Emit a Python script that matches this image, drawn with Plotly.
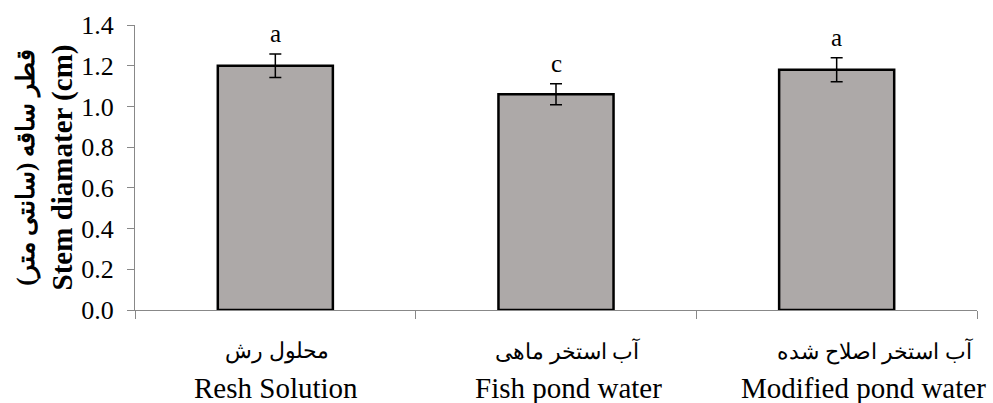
import plotly.graph_objects as go

categories_fa = ["محلول رش", "آب استخر ماهی", "آب استخر اصلاح شده"]
categories_en = ["Resh Solution", "Fish pond water", "Modified pond water"]
values = [1.20, 1.06, 1.18]
errors = [0.058, 0.052, 0.059]
letters = ["a", "c", "a"]
y_ticks = [0.0, 0.2, 0.4, 0.6, 0.8, 1.0, 1.2, 1.4]

# horizontal nudges (px) of the category text boxes, as placed in the original
fa_offsets = [2, 11, 38]
en_offsets = [1, 12, 27]

SERIF = "Liberation Serif, Times New Roman, serif"

fig = go.Figure()
fig.add_trace(go.Bar(
    x=categories_en, y=values,
    marker=dict(color="#ADA9A8", line=dict(color="#000000", width=2.5)),
    width=0.41,
    error_y=dict(type="data", array=errors, visible=True, color="#000000", thickness=1.5, width=6),
))
for c, v, e, l in zip(categories_en, values, errors, letters):
    fig.add_annotation(x=c, y=v + e, text=l, showarrow=False, yanchor="bottom", yshift=5,
                       font=dict(family=SERIF, size=25, color="#000"))
for c, fa, en, dfa, den in zip(categories_en, categories_fa, categories_en, fa_offsets, en_offsets):
    fig.add_annotation(x=c, y=0, yref="paper", text=fa, showarrow=False, yanchor="middle",
                       yshift=-41, xshift=dfa,
                       font=dict(family=SERIF, size=22, color="#000"))
    fig.add_annotation(x=c, y=0, yref="paper", text=en, showarrow=False, yanchor="middle",
                       yshift=-78, xshift=den,
                       font=dict(family=SERIF, size=29, color="#000"))

fig.update_layout(
    width=993, height=403,
    margin=dict(l=135, r=16, t=25, b=93),
    plot_bgcolor="white", paper_bgcolor="white",
    showlegend=False,
    font=dict(family=SERIF, size=26, color="#000"),
)
fig.update_xaxes(
    range=[-0.5, len(categories_en) - 0.5],
    showline=True, linecolor="#888888", linewidth=1,
    ticks="outside", ticklen=8, tickcolor="#888888", tickson="boundaries",
    showticklabels=False,
    showgrid=False,
)
fig.update_yaxes(
    range=[0, 1.4], tickvals=y_ticks, tickformat=".1f",
    showline=True, linecolor="#888888", linewidth=1,
    ticks="outside", ticklen=7, tickcolor="#888888",
    tickfont=dict(family=SERIF, size=26, color="#000"),
    ticklabelstandoff=8,
    showgrid=False, zeroline=False,
    title=dict(text="<b><span style='font-size:25px'>قطر ساقه (سانتی متر)</span><br>Stem diamater (cm)</b>",
               font=dict(family=SERIF, size=29, color="#000"), standoff=0),
)
fig.write_html("out.html")
